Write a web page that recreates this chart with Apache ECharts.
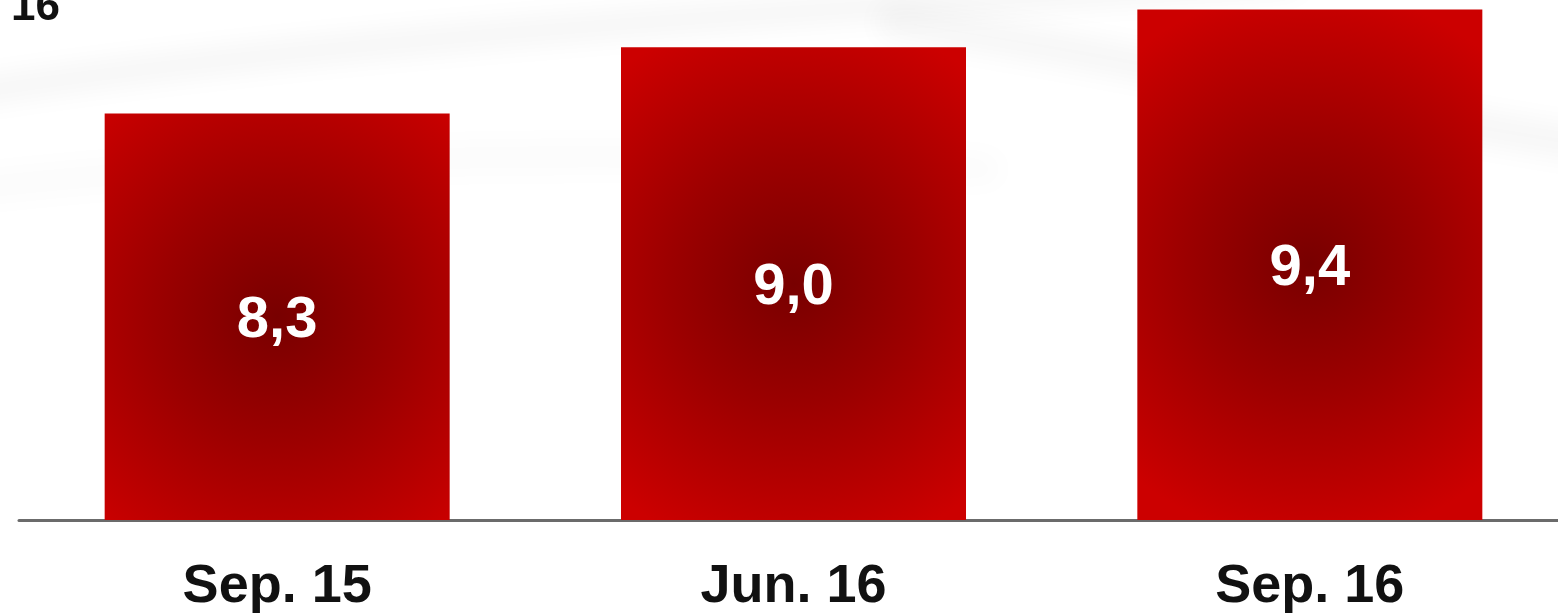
<!DOCTYPE html>
<html>
<head>
<meta charset="utf-8">
<script src="https://cdn.jsdelivr.net/npm/echarts@6/dist/echarts.min.js"></script>
<style>
  html, body { margin: 0; padding: 0; background: #fff; }
  #chart { width: 1558px; height: 615px; }
</style>
</head>
<body>
<div id="chart"></div>
<script>
// data
const categories = ['Sep. 15', 'Jun. 16', 'Sep. 16'];
const values = [8.3, 9.0, 9.4];
const cornerText = '16';

const FONT = "'Liberation Sans', Arial, sans-serif";

// red bar fill: dark in the middle, brighter towards the edges
const barFill = {
  type: 'radial', x: 0.5, y: 0.5, r: 0.8,
  colorStops: [
    { offset: 0, color: '#780000' },
    { offset: 0.45, color: '#9c0000' },
    { offset: 1, color: '#cc0000' }
  ]
};

// soft grey band: the stroke sits off-screen, only its blurred shadow shows
function swoosh(shape, width, alpha) {
  const up = 2000;
  return {
    type: 'bezierCurve', z: -10, silent: true,
    shape: {
      x1: shape[0], y1: shape[1] - up, cpx1: shape[2], cpy1: shape[3] - up,
      cpx2: shape[4], cpy2: shape[5] - up, x2: shape[6], y2: shape[7] - up
    },
    style: {
      stroke: '#000', lineWidth: width, fill: null,
      shadowBlur: 28, shadowOffsetY: up, shadowColor: 'rgba(0,0,0,' + alpha + ')'
    }
  };
}

const chart = echarts.init(document.getElementById('chart'));

chart.setOption({
  backgroundColor: '#ffffff',
  animation: false,
  grid: { left: 19, width: 1549, top: 0, bottom: 95, outerBoundsMode: 'none' },
  graphic: [
    swoosh([-40, 95, 300, 40, 800, 10, 1300, -20], 22, 0.05),
    swoosh([880, 20, 1100, 50, 1350, 110, 1620, 150], 30, 0.045),
    swoosh([-40, 190, 300, 150, 700, 150, 1000, 170], 30, 0.02),
    {
      type: 'text', left: 11, top: -14,
      style: { text: cornerText, font: 'bold 44px ' + FONT, fill: '#111' }
    }
  ],
  xAxis: {
    type: 'category',
    data: categories,
    axisTick: { show: false },
    axisLine: { lineStyle: { color: '#6b6b6b', width: 3 } },
    axisLabel: {
      color: '#111', fontSize: 54, fontWeight: 'bold', fontFamily: FONT, margin: 40
    }
  },
  yAxis: {
    type: 'value', min: 4, max: 9.5,
    show: false,
    splitLine: { show: false }
  },
  series: [{
    type: 'bar',
    data: values,
    barWidth: 345,
    itemStyle: { color: barFill },
    label: {
      show: true,
      position: 'inside',
      offset: [0, 4],
      color: '#fff',
      fontSize: 58,
      fontWeight: 'bold',
      fontFamily: FONT,
      formatter: p => p.value.toFixed(1).replace('.', ',')
    }
  }]
});
</script>
</body>
</html>
